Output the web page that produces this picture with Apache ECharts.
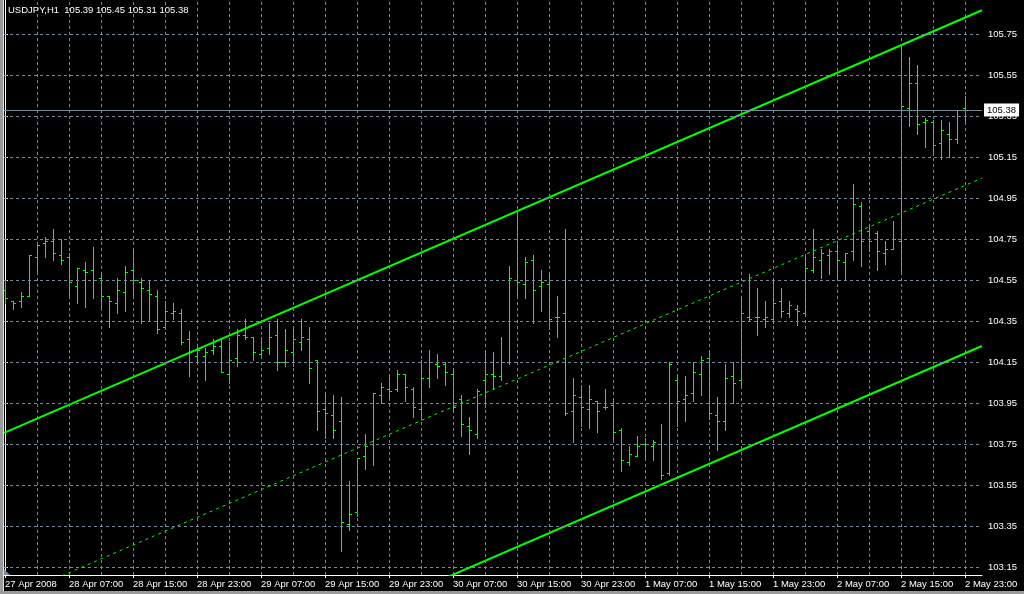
<!DOCTYPE html>
<html><head><meta charset="utf-8">
<script src="https://cdn.jsdelivr.net/npm/echarts@6/dist/echarts.min.js"></script>
<style>
html,body{margin:0;padding:0;background:#000;width:1024px;height:594px;overflow:hidden}
#c{position:absolute;left:0;top:0;width:1024px;height:594px}
</style></head><body><div id="c"></div>
<script>
const symbol = 'USDJPY';
const timeframe = 'H1';

const opens = [104.50,104.45,104.45,104.47,104.66,104.73,104.74,104.67,104.66,104.52,104.60,104.60,104.56,104.47,104.44,104.49,104.60,104.54,104.50,104.47,
104.32,104.39,104.39,104.26,104.18,104.18,104.21,104.23,104.09,104.17,104.28,104.27,104.19,104.22,104.28,104.15,104.20,104.25,104.26,104.16,
103.92,103.89,103.86,103.36,103.42,103.69,103.75,103.99,104.02,104.02,104.09,104.02,103.92,104.07,104.14,104.14,104.09,103.97,103.84,103.80,
104.06,104.09,104.08,104.15,104.55,104.53,104.65,104.52,104.53,104.37,104.39,103.91,103.98,103.92,103.96,103.93,103.94,103.82,103.66,103.69,
103.75,103.74,103.75,103.61,104.06,103.97,104.00,104.09,104.17,103.89,103.86,104.08,104.06,104.37,104.37,104.36,104.36,104.45,104.39,104.41,
104.39,104.60,104.65,104.67,104.69,104.64,104.69,104.91,104.79,104.78,104.68,104.70,104.74,105.39,105.51,105.32,105.32,105.22,105.26,105.24,
105.39];
const highs = [104.55,104.45,104.49,104.67,104.72,104.76,104.80,104.75,104.68,104.61,104.64,104.71,104.59,104.47,104.56,104.62,104.70,104.56,104.55,104.50,
104.45,104.44,104.41,104.30,104.24,104.22,104.26,104.26,104.25,104.31,104.36,104.27,104.27,104.34,104.36,104.31,104.32,104.36,104.32,104.16,
104.00,103.99,103.98,103.57,103.68,103.80,104.00,104.05,104.09,104.11,104.09,104.03,104.16,104.21,104.19,104.15,104.11,103.99,103.88,104.02,
104.21,104.20,104.27,104.62,104.88,104.66,104.67,104.60,104.59,104.47,104.80,104.07,104.04,104.04,103.96,104.02,103.97,103.83,103.74,103.79,
103.78,103.77,103.85,104.15,104.09,104.08,104.15,104.18,104.21,103.98,104.14,104.15,104.47,104.58,104.51,104.45,104.56,104.51,104.45,104.43,
104.66,104.80,104.70,104.70,104.74,104.68,105.02,104.93,104.82,104.79,104.74,104.84,105.70,105.64,105.60,105.34,105.33,105.33,105.32,105.38,
105.45];
const lows = [104.44,104.41,104.42,104.47,104.58,104.66,104.65,104.63,104.46,104.44,104.42,104.46,104.42,104.32,104.39,104.40,104.46,104.34,104.35,104.29,
104.31,104.36,104.24,104.08,104.14,104.06,104.19,104.10,104.05,104.13,104.26,104.16,104.17,104.19,104.11,104.13,104.13,104.21,104.05,103.82,
103.78,103.78,103.23,103.33,103.40,103.63,103.65,103.95,103.98,104.01,103.96,103.88,103.87,104.03,104.07,104.04,103.92,103.79,103.70,103.78,
103.93,104.02,104.06,104.14,104.46,104.46,104.34,104.40,104.31,104.27,103.89,103.76,103.84,103.83,103.81,103.92,103.76,103.62,103.65,103.69,
103.67,103.67,103.58,103.60,103.84,103.86,103.96,103.99,103.87,103.72,103.82,103.95,104.03,104.35,104.28,104.32,104.34,104.37,104.37,104.33,
104.38,104.59,104.56,104.58,104.55,104.55,104.65,104.62,104.69,104.60,104.63,104.70,104.59,105.30,105.26,105.20,105.16,105.14,105.15,105.22,
105.31];
const closes = [104.46,104.44,104.47,104.67,104.72,104.74,104.68,104.65,104.54,104.61,104.59,104.55,104.47,104.45,104.50,104.59,104.55,104.51,104.48,104.31,
104.40,104.40,104.25,104.20,104.21,104.20,104.23,104.10,104.16,104.28,104.27,104.20,104.21,104.27,104.15,104.21,104.26,104.27,104.12,103.91,
103.90,103.82,103.37,103.41,103.68,103.74,104.00,104.03,104.01,104.09,104.03,103.93,104.07,104.15,104.13,104.10,103.93,103.85,103.82,104.01,
104.09,104.08,104.15,104.56,104.54,104.64,104.50,104.54,104.36,104.37,103.90,103.99,103.93,103.97,103.91,103.93,103.81,103.67,103.70,103.74,
103.75,103.76,103.60,104.14,103.96,103.99,104.10,104.16,103.90,103.86,104.07,104.05,104.39,104.36,104.37,104.37,104.44,104.40,104.43,104.40,
104.61,104.66,104.68,104.69,104.65,104.68,104.92,104.74,104.74,104.69,104.70,104.75,105.40,105.51,105.31,105.33,105.21,105.28,105.24,105.38,
105.38];

const xLabels = ['27 Apr 2008','28 Apr 07:00','28 Apr 15:00','28 Apr 23:00','29 Apr 07:00','29 Apr 15:00','29 Apr 23:00','30 Apr 07:00',
'30 Apr 15:00','30 Apr 23:00','1 May 07:00','1 May 15:00','1 May 23:00','2 May 07:00','2 May 15:00','2 May 23:00'];
const xLabelBars = [0,8,16,24,32,40,48,56,64,72,80,88,96,104,112,120];
const xGridBars = [4,8,12,16,20,24,28,32,36,40,44,48,52,56,60,64,68,72,76,80,84,88,92,96,100,104,108,112,116,120];
const yTicks = [103.15,103.35,103.55,103.75,103.95,104.15,104.35,104.55,104.75,104.95,105.15,105.35,105.55,105.75];

const upperChannel = [[-0.125,103.804],[122.125,105.866]];
const middleChannel = [[-0.125,102.985],[122.125,105.047]];
const lowerChannel = [[-0.125,102.166],[122.125,104.228]];

const BAR = '#00ff00';
const GRID = '#778899';
const FONT = 'Liberation Sans';
const FS = 9.5;

const n = closes.length - 1;
const fmt = v => v.toFixed(2);
const titleText = symbol + ',' + timeframe + '  ' + fmt(opens[n]) + ' ' + fmt(highs[n]) + ' ' + fmt(lows[n]) + ' ' + fmt(closes[n]);
const ohlc = opens.map((o, i) => [i, o, highs[i], lows[i], closes[i]]);
const lastPrice = closes[n];

const chart = echarts.init(document.getElementById('c'), null, {renderer: 'canvas'});
chart.setOption({
  backgroundColor: '#000',
  animation: false,
  title: {
    text: titleText, left: 8, top: 5, padding: 0,
    textStyle: {color: '#fff', fontSize: FS, fontWeight: 'normal', fontFamily: FONT}
  },
  grid: {left: 4, right: 42, top: 0, bottom: 19},
  xAxis: {
    type: 'value', min: -0.125, max: 122.125,
    axisLine: {show: true, lineStyle: {color: '#fff', width: 1}},
    axisTick: {show: true, customValues: xLabelBars, length: 3, lineStyle: {color: '#fff'}},
    axisLabel: {
      customValues: xLabelBars, formatter: v => xLabels[Math.round(v / 8)],
      align: 'left', color: '#fff', fontSize: FS, fontFamily: FONT, margin: 4
    },
    splitLine: {show: false}
  },
  yAxis: {
    type: 'value', position: 'right', min: 103.111, max: 105.916,
    axisLine: {show: true, lineStyle: {color: '#fff', width: 1}},
    axisTick: {show: true, customValues: yTicks, length: 3, lineStyle: {color: '#fff'}},
    axisLabel: {customValues: yTicks, formatter: v => v.toFixed(2), color: '#fff', fontSize: FS, fontFamily: FONT, margin: 6},
    splitLine: {show: false}
  },
  graphic: [
    {type: 'rect', shape: {x: 0, y: 0, width: 3, height: 594}, style: {fill: '#9a9a9a'}, z: 100},
    {type: 'rect', shape: {x: 3, y: 0, width: 1, height: 594}, style: {fill: '#e0e0e0'}, z: 100},
    {type: 'rect', shape: {x: 0, y: 591, width: 1024, height: 3}, style: {fill: '#9a9a9a'}, z: 100},
    {type: 'polygon', shape: {points: [[4, 569], [4, 575], [10, 575]]}, style: {fill: GRID}, z: 50}
  ],
  series: [
    {
      type: 'line', data: [], silent: true, z: 1,
      markLine: {
        silent: true, symbol: 'none', animation: false, label: {show: false},
        lineStyle: {color: GRID, type: [3, 3], width: 1},
        data: yTicks.map(v => ({yAxis: v})).concat(xGridBars.map(v => ({xAxis: v})))
      }
    },
    {
      type: 'line', data: [], silent: true, z: 1,
      markLine: {
        silent: true, symbol: 'none', animation: false,
        lineStyle: {color: GRID, type: 'solid', width: 1},
        label: {show: true, position: 'end', distance: 2, formatter: () => fmt(lastPrice),
          backgroundColor: '#fff', color: '#000', fontSize: FS, fontFamily: FONT, padding: [2, 3, 1, 3]},
        data: [{yAxis: lastPrice}]
      }
    },
    {
      type: 'custom', z: 3, clip: true,
      dimensions: ['i', 'open', 'high', 'low', 'close'],
      encode: {x: 0, y: [1, 2, 3, 4]},
      data: ohlc,
      renderItem: function (params, api) {
        const i = api.value(0);
        const pH = api.coord([i, api.value(2)]);
        const pL = api.coord([i, api.value(3)]);
        const pO = api.coord([i, api.value(1)]);
        const pC = api.coord([i, api.value(4)]);
        const xi = Math.floor(pH[0]);
        const yh = Math.round(pH[1]), yl = Math.round(pL[1]);
        const yo = Math.round(pO[1]), yc = Math.round(pC[1]);
        const st = {fill: BAR};
        return {type: 'group', children: [
          {type: 'rect', shape: {x: xi, y: yh, width: 1, height: Math.max(1, yl - yh + 1)}, style: st},
          {type: 'rect', shape: {x: xi - 2, y: yo, width: 3, height: 1}, style: st},
          {type: 'rect', shape: {x: xi, y: yc, width: 3, height: 1}, style: st}
        ]};
      }
    },
    {type: 'line', data: upperChannel, symbol: 'none', clip: true, z: 4, silent: true,
      lineStyle: {color: BAR, width: 2}},
    {type: 'line', data: middleChannel, symbol: 'none', clip: true, z: 4, silent: true,
      lineStyle: {color: BAR, width: 1, type: [3, 4]}},
    {type: 'line', data: lowerChannel, symbol: 'none', clip: true, z: 4, silent: true,
      lineStyle: {color: BAR, width: 2}}
  ]
});
</script></body></html>
